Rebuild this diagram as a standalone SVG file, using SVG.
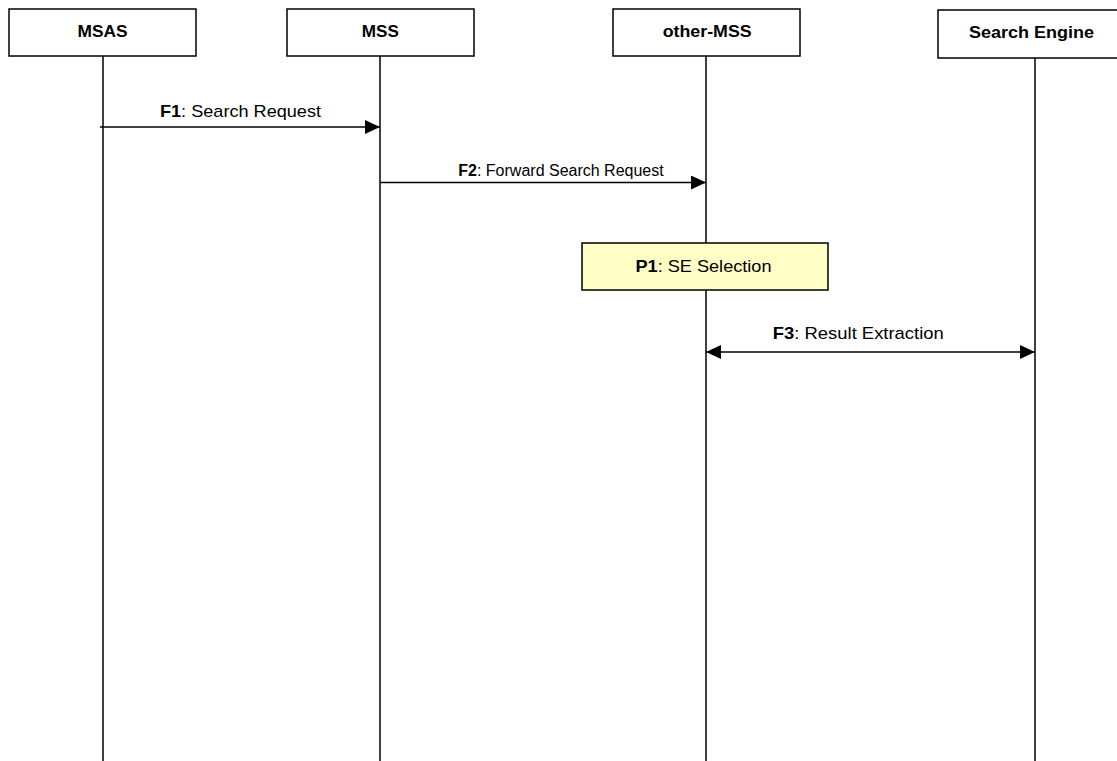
<svg xmlns="http://www.w3.org/2000/svg" width="1117" height="761" viewBox="0 0 1117 761">
<style>
.box{fill:#fff;stroke:#000;stroke-width:1.5}
.hdr{font-family:"Liberation Sans",Arial,sans-serif;font-weight:bold;font-size:17px;text-anchor:middle}
.lbl{font-family:"Liberation Sans",Arial,sans-serif;font-size:17px;text-anchor:middle}
.life{stroke:#000;stroke-width:1.5;fill:none}
.msg{stroke:#000;stroke-width:1.5;fill:none}
</style>
<defs>
<marker id="ah" viewBox="0 0 15 14" refX="15" refY="7" markerWidth="15" markerHeight="14" markerUnits="userSpaceOnUse" orient="auto-start-reverse">
<path d="M0,0 L15,7 L0,14 Z" fill="#000"/>
</marker>
</defs>
<rect width="1117" height="761" fill="#fff"/>
<g id="lifelines">
<line class="life" x1="103" y1="56" x2="103" y2="761"/>
<line class="life" x1="380" y1="56" x2="380" y2="761"/>
<line class="life" x1="706" y1="56" x2="706" y2="761"/>
<line class="life" x1="1035" y1="58" x2="1035" y2="761"/>
</g>
<g id="node-msas"><rect class="box" x="9" y="9" width="187" height="47"/><text class="hdr" x="102.5" y="37" textLength="50" lengthAdjust="spacingAndGlyphs">MSAS</text></g>
<g id="node-mss"><rect class="box" x="287" y="9" width="187" height="47"/><text class="hdr" x="380.3" y="37" textLength="37" lengthAdjust="spacingAndGlyphs">MSS</text></g>
<g id="node-other-mss"><rect class="box" x="613" y="9" width="187" height="47"/><text class="hdr" x="707.2" y="37" textLength="89" lengthAdjust="spacingAndGlyphs">other-MSS</text></g>
<g id="node-search-engine"><rect class="box" x="938" y="10" width="194" height="48"/><text class="hdr" x="1031.5" y="38" textLength="125" lengthAdjust="spacingAndGlyphs">Search Engine</text></g>
<g id="node-p1"><rect x="582" y="243" width="246" height="47" fill="#ffffc6" stroke="#000" stroke-width="1.5"/><text class="lbl" x="703.5" y="272" textLength="136" lengthAdjust="spacingAndGlyphs"><tspan font-weight="bold">P1</tspan>: SE Selection</text></g>
<g id="connectors">
<line class="msg" x1="100" y1="127" x2="380" y2="127" marker-end="url(#ah)"/>
<text class="lbl" x="240.5" y="117" textLength="161" lengthAdjust="spacingAndGlyphs"><tspan font-weight="bold">F1</tspan>: Search Request</text>
<line class="msg" x1="380" y1="182.5" x2="706" y2="182.5" marker-end="url(#ah)"/>
<text class="lbl" x="561" y="176" style="font-size:16px"><tspan font-weight="bold">F2</tspan>: Forward Search Request</text>
<line class="msg" x1="706" y1="352" x2="1035" y2="352" marker-start="url(#ah)" marker-end="url(#ah)"/>
<text class="lbl" x="858.3" y="339" textLength="171" lengthAdjust="spacingAndGlyphs"><tspan font-weight="bold">F3</tspan>: Result Extraction</text>
</g>
</svg>
